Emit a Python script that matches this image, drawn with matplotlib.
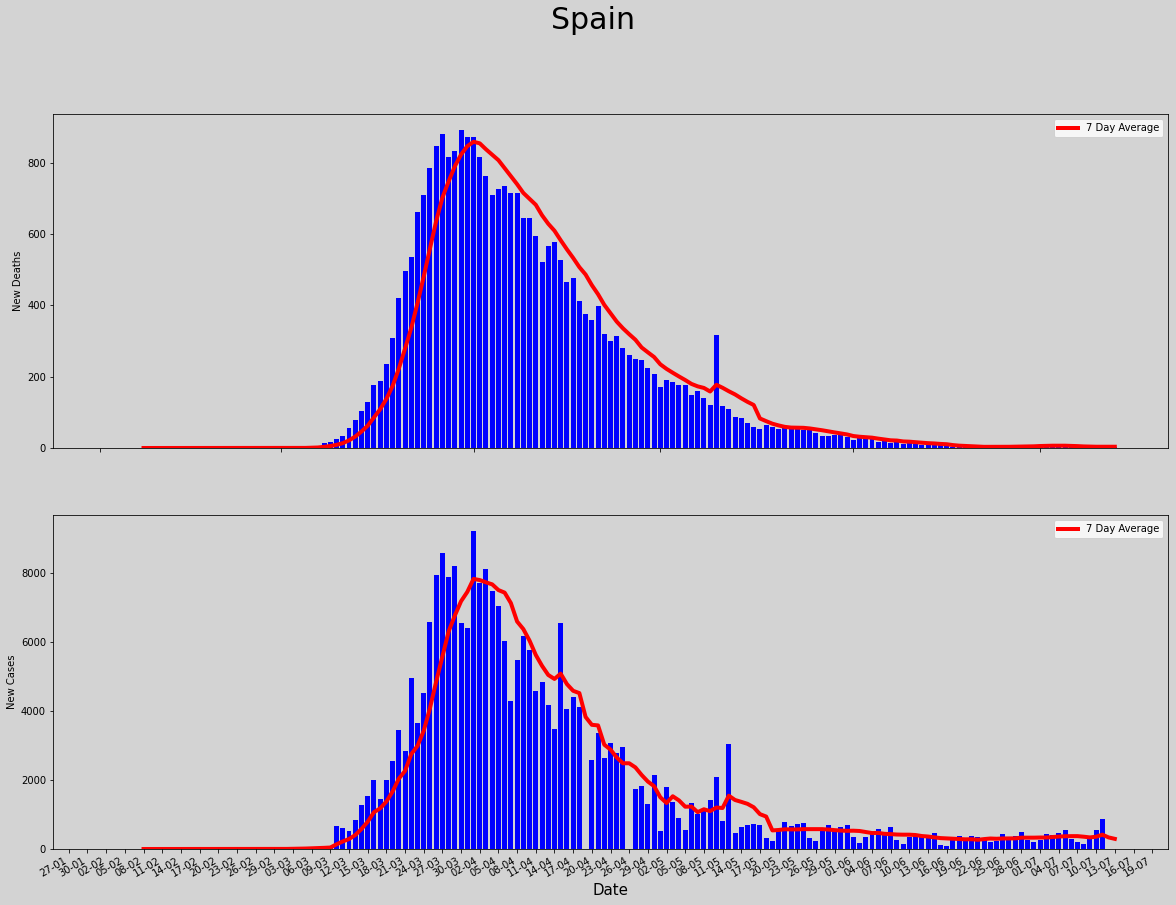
import pandas as pd
import matplotlib
matplotlib.use('Agg')
import matplotlib.pyplot as plt
import matplotlib.dates as mdates

# daily values, 2020-02-02 .. 2020-07-13
deaths_feb = [0] * 28
deaths_mar = [0, 0, 1, 0, 1, 3, 5, 13, 16, 24, 33, 55, 78, 103, 128, 176, 187, 235, 308, 420,
              496, 535, 661, 709, 785, 847, 880, 816, 832, 892, 872]
deaths_apr = [872, 816, 763, 709, 726, 734, 715, 715, 645, 645, 594, 521, 567, 578, 528, 466,
              477, 413, 376, 359, 399, 320, 300, 314, 281, 261, 250, 247, 225, 208]
deaths_may = [171, 191, 185, 177, 177, 149, 160, 140, 121, 317, 118, 109, 87, 84, 70, 59,
              53, 65, 59, 53, 56, 56, 56, 51, 53, 42, 34, 34, 36, 36, 31]
deaths_jun = [22, 28, 25, 25, 17, 20, 14, 17, 11, 20, 14, 8, 11, 8, 8, 5, 3, 3,
              2, 3, 4, 3, 5, 2, 4, 3, 5, 4, 6, 9]
deaths_jul = [8, 7, 6, 5, 4, 3, 4, 2, 4, 3, 5, 4, 3]

cases_feb = [0] * 28
cases_mar = [8, 12, 18, 25, 30, 40, 50, 60, 75, 667, 609, 522, 840, 1275, 1536, 2000, 1449,
             2000, 2550, 3449, 2840, 4956, 3651, 4521, 6578, 7941, 8578, 7883, 8201, 6550, 6405]
cases_apr = [9216, 7709, 8114, 7477, 7042, 6028, 4289, 5477, 6173, 5767, 4579, 4840, 4173,
             3478, 6550, 4057, 4405, 4115, 0, 2579, 3362, 2637, 3072, 2782, 2956, 0, 1739,
             1826, 1304, 2144]
cases_may = [522, 1797, 1362, 898, 551, 1333, 1014, 1101, 1420, 2087, 811, 3043, 464, 638,
             696, 725, 696, 319, 232, 550, 783, 667, 725, 754, 319, 232, 550, 696, 550, 638, 696]
cases_jun = [348, 174, 348, 480, 580, 454, 638, 261, 145, 348, 406, 377, 357, 464, 116, 87,
             280, 377, 280, 377, 348, 261, 203, 232, 435, 300, 377, 493, 261, 203]
cases_jul = [261, 435, 406, 464, 551, 290, 203, 145, 290, 551, 869, 0, 0]

deaths = deaths_feb + deaths_mar + deaths_apr + deaths_may + deaths_jun + deaths_jul
cases = cases_feb + cases_mar + cases_apr + cases_may + cases_jun + cases_jul
dates = pd.date_range('2020-02-02', '2020-07-13', freq='D')

df = pd.DataFrame({'New Deaths': deaths, 'New Cases': cases}, index=dates)
avg = df.rolling(7).mean()

W, H = 1176, 905
fig = plt.figure(figsize=(W / 72, H / 72), dpi=72, facecolor='lightgrey')
ax1 = fig.add_axes([53 / W, (H - 448) / H, 1115 / W, 334 / H])
ax2 = fig.add_axes([53 / W, (H - 849) / H, 1115 / W, 334 / H])

for ax, col in [(ax1, 'New Deaths'), (ax2, 'New Cases')]:
    ax.set_facecolor('lightgrey')
    ax.bar(df.index, df[col], color='blue')
    ax.plot(avg.index, avg[col], color='red', lw=4, label='7 Day Average')
    ax.set_ylabel(col)
    ax.legend(loc='upper right')

# top plot keeps monthly ticks without labels
ax1.xaxis.set_major_locator(mdates.MonthLocator())
ax1.tick_params(labelbottom=False)

ax2.set_xticks(pd.date_range('2020-01-27', '2020-07-19', freq='3D'))
ax2.xaxis.set_major_formatter(mdates.DateFormatter('%d-%m'))
plt.setp(ax2.get_xticklabels(), rotation=30, ha='right')
ax2.set_xlabel('Date', fontsize=15)
ax2.set_xlim(ax1.get_xlim())

fig.suptitle('Spain', fontsize=30, x=593 / W, y=0.993)
fig.savefig('out.png', dpi=72, facecolor='lightgrey')
